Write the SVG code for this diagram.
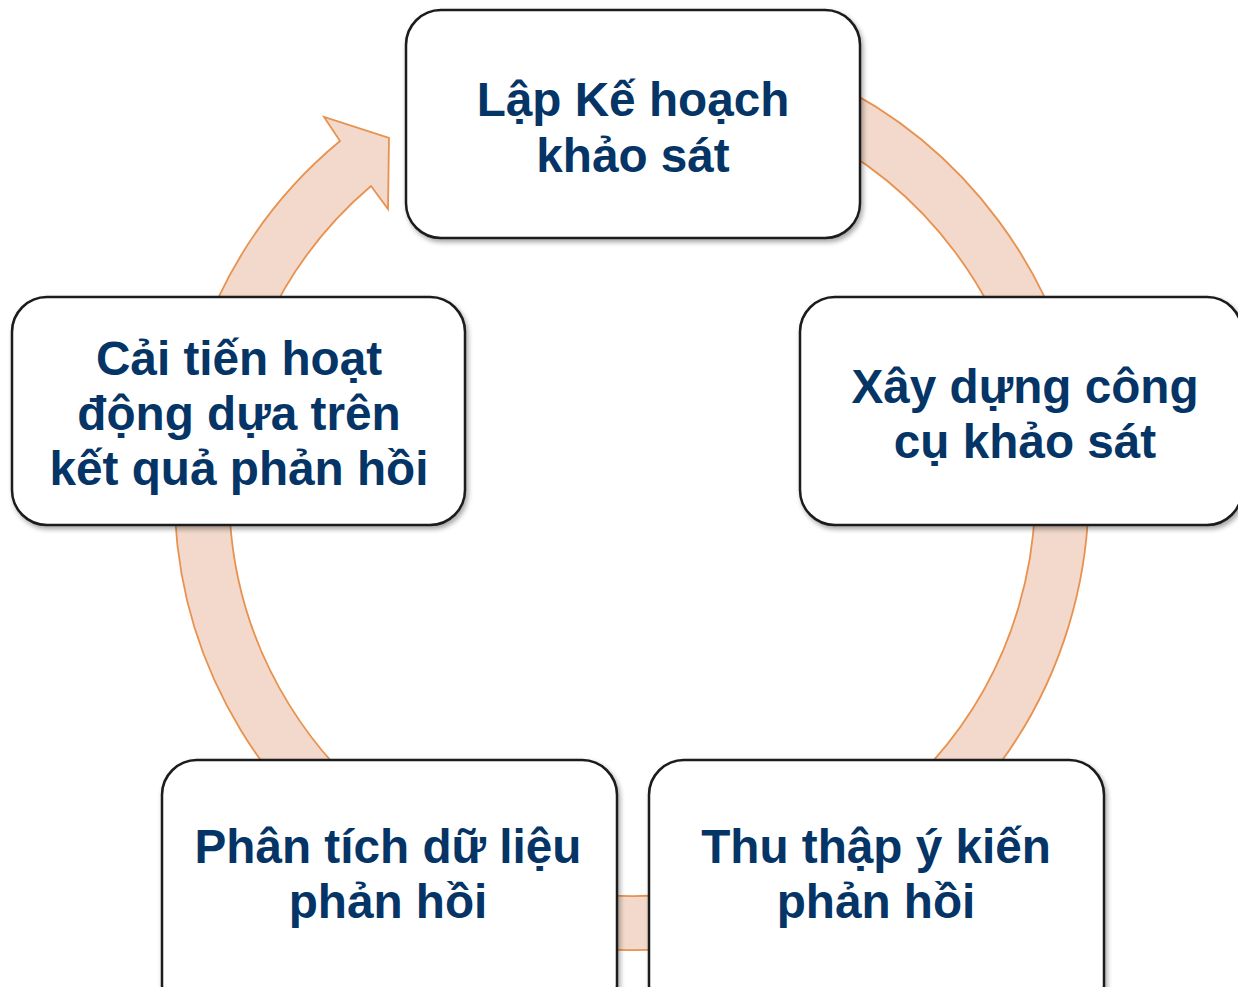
<svg xmlns="http://www.w3.org/2000/svg" width="1238" height="987" viewBox="0 0 1238 987">
<style>
.box{fill:#ffffff;stroke:#1a1a1a;stroke-width:2.5;filter:url(#sh)}
.lbl{font-family:"Liberation Sans",Arial,sans-serif;font-weight:bold;font-size:47.7px;fill:#053466;text-anchor:middle}
.ring{fill:#F2D9CB;stroke:#E8924F;stroke-width:1.8;stroke-linejoin:miter}
</style>
<defs>
<filter id="sh" x="-10%" y="-10%" width="125%" height="130%">
<feDropShadow dx="2" dy="3" stdDeviation="2.5" flood-color="#000" flood-opacity="0.35"/>
</filter>
</defs>
<rect width="1238" height="987" fill="#ffffff"/>
<g id="connectors">
<path class="ring" d="M 632 36 A 457 457 0 1 1 340 141 L 324 117 L 389 138 L 388 209 L 371 186 A 403 403 0 1 0 632 90 Z"/>
</g>
<g id="node-plan">
<rect class="box" x="406" y="10" width="454" height="228" rx="35"/>
<text class="lbl" x="633" y="116">Lập Kế hoạch</text>
<text class="lbl" x="633" y="172">khảo sát</text>
</g>
<g id="node-build">
<rect class="box" x="800" y="297" width="442" height="228" rx="35"/>
<text class="lbl" x="1025" y="403">Xây dựng công</text>
<text class="lbl" x="1025" y="458">cụ khảo sát</text>
</g>
<g id="node-collect">
<rect class="box" x="649" y="760" width="455" height="260" rx="35"/>
<text class="lbl" x="876" y="863">Thu thập ý kiến</text>
<text class="lbl" x="876" y="918">phản hồi</text>
</g>
<g id="node-analyze">
<rect class="box" x="162" y="760" width="455" height="260" rx="35"/>
<text class="lbl" x="388" y="863">Phân tích dữ liệu</text>
<text class="lbl" x="388" y="918">phản hồi</text>
</g>
<g id="node-improve">
<rect class="box" x="12" y="297" width="453" height="228" rx="35"/>
<text class="lbl" x="239" y="375">Cải tiến hoạt</text>
<text class="lbl" x="239" y="430">động dựa trên</text>
<text class="lbl" x="239" y="485">kết quả phản hồi</text>
</g>
</svg>
